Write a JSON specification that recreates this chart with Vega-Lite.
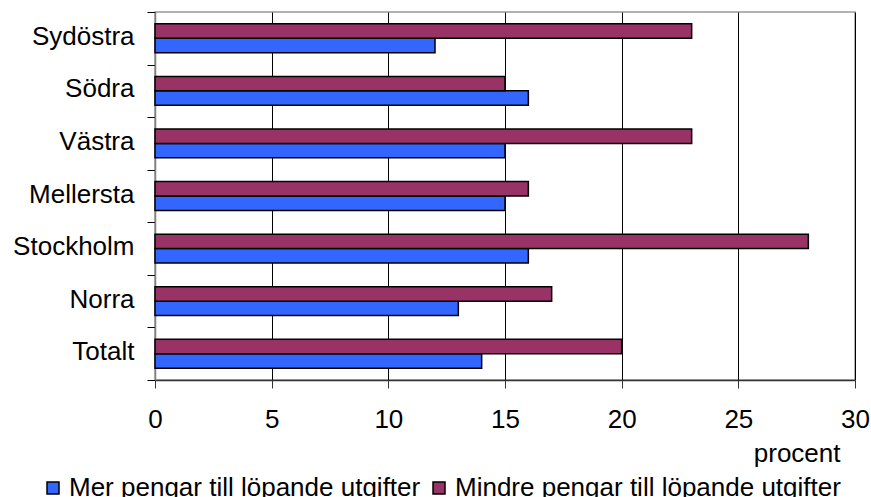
{
  "$schema": "https://vega.github.io/schema/vega-lite/v6.json",
  "autosize": {"type": "none"},
  "padding": {"left": 155, "top": 12, "right": 16, "bottom": 117},
  "width": 700,
  "height": 368,
  "background": "white",
  "config": {
    "font": "Liberation Sans",
    "view": {"stroke": "#999999", "strokeWidth": 1.5}
  },
  "data": {
    "values": [
      {"region": "Sydöstra", "serie": "Mer pengar till löpande utgifter", "value": 12},
      {"region": "Sydöstra", "serie": "Mindre pengar till löpande utgifter", "value": 23},
      {"region": "Södra", "serie": "Mer pengar till löpande utgifter", "value": 16},
      {"region": "Södra", "serie": "Mindre pengar till löpande utgifter", "value": 15},
      {"region": "Västra", "serie": "Mer pengar till löpande utgifter", "value": 15},
      {"region": "Västra", "serie": "Mindre pengar till löpande utgifter", "value": 23},
      {"region": "Mellersta", "serie": "Mer pengar till löpande utgifter", "value": 15},
      {"region": "Mellersta", "serie": "Mindre pengar till löpande utgifter", "value": 16},
      {"region": "Stockholm", "serie": "Mer pengar till löpande utgifter", "value": 16},
      {"region": "Stockholm", "serie": "Mindre pengar till löpande utgifter", "value": 28},
      {"region": "Norra", "serie": "Mer pengar till löpande utgifter", "value": 13},
      {"region": "Norra", "serie": "Mindre pengar till löpande utgifter", "value": 17},
      {"region": "Totalt", "serie": "Mer pengar till löpande utgifter", "value": 14},
      {"region": "Totalt", "serie": "Mindre pengar till löpande utgifter", "value": 20}
    ]
  },
  "mark": {"type": "bar", "stroke": "black", "strokeWidth": 1.5},
  "encoding": {
    "y": {
      "field": "region",
      "type": "nominal",
      "sort": ["Sydöstra", "Södra", "Västra", "Mellersta", "Stockholm", "Norra", "Totalt"],
      "scale": {"paddingInner": 0, "paddingOuter": 0},
      "axis": {
        "title": null,
        "tickBand": "extent",
        "domainColor": "#808080",
        "domainWidth": 1.5,
        "tickColor": "black",
        "tickSize": 8,
        "labelFontSize": 26,
        "labelColor": "black",
        "labelPadding": 13,
        "labelOffset": -2,
        "grid": false
      }
    },
    "yOffset": {
      "field": "serie",
      "type": "nominal",
      "sort": ["Mindre pengar till löpande utgifter", "Mer pengar till löpande utgifter"],
      "scale": {"paddingInner": 0, "paddingOuter": 0.82}
    },
    "x": {
      "field": "value",
      "type": "quantitative",
      "scale": {"domain": [0, 30], "nice": false},
      "axis": {
        "values": [0, 5, 10, 15, 20, 25, 30],
        "title": "procent",
        "titleFontSize": 26,
        "titleFontWeight": "normal",
        "titleColor": "black",
        "titleAnchor": "end",
        "titleAlign": "right",
        "titleBaseline": "alphabetic",
        "titleX": 685,
        "titleY": 81,
        "grid": true,
        "gridColor": "black",
        "gridWidth": 1,
        "gridOpacity": 1,
        "domainColor": "#333333",
        "domainWidth": 1.5,
        "tickColor": "#333333",
        "tickSize": 8,
        "labelFontSize": 26,
        "labelColor": "black",
        "labelPadding": 18,
        "labelFlush": false
      }
    },
    "color": {
      "field": "serie",
      "type": "nominal",
      "sort": ["Mer pengar till löpande utgifter", "Mindre pengar till löpande utgifter"],
      "scale": {"range": ["#3366FF", "#993366"]},
      "legend": {
        "title": null,
        "orient": "none",
        "direction": "horizontal",
        "legendX": -115,
        "legendY": 463,
        "padding": 0,
        "symbolType": "square",
        "symbolSize": 144,
        "symbolStrokeColor": "black",
        "symbolStrokeWidth": 1.5,
        "symbolOpacity": 1,
        "labelFontSize": 26,
        "labelColor": "black",
        "labelOffset": 3,
        "labelLimit": 500,
        "columnPadding": 5
      }
    }
  }
}
